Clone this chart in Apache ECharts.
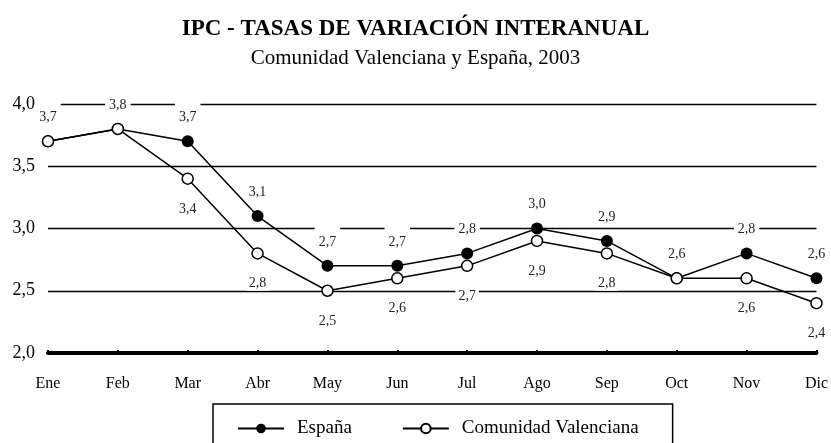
<!DOCTYPE html>
<html>
<head>
<meta charset="utf-8">
<script src="https://cdn.jsdelivr.net/npm/echarts@6/dist/echarts.min.js"></script>
<style>
  html, body { margin: 0; padding: 0; background: #fff; }
  #chart { width: 831px; height: 443px; }
</style>
</head>
<body>
<div id="chart"></div>
<script>
// meses
const months = ['Ene', 'Feb', 'Mar', 'Abr', 'May', 'Jun', 'Jul', 'Ago', 'Sep', 'Oct', 'Nov', 'Dic'];
// tasas de variación interanual (%)
const espana = [3.7, 3.8, 3.7, 3.1, 2.7, 2.7, 2.8, 3.0, 2.9, 2.6, 2.8, 2.6];
const valenciana = [3.7, 3.8, 3.4, 2.8, 2.5, 2.6, 2.7, 2.9, 2.8, 2.6, 2.6, 2.4];
// etiquetas de la Comunidad que no aparecen (coinciden con España)
const valencianaSinEtiqueta = ['Ene', 'Feb', 'Oct'];
const yTicks = [2.0, 2.5, 3.0, 3.5, 4.0];

const FONT = 'Liberation Serif';
const coma = v => v.toFixed(1).replace('.', ',');

const labelBase = {
  show: true,
  fontFamily: FONT,
  fontSize: 14,
  color: '#222',
  backgroundColor: '#fff',
  formatter: p => coma(p.value)
};

const chart = echarts.init(document.getElementById('chart'));
chart.setOption({
  animation: false,
  title: [
    {
      text: 'IPC - TASAS DE VARIACIÓN INTERANUAL',
      left: 'center',
      top: 13,
      textStyle: { fontFamily: FONT, fontSize: 23, fontWeight: 'bold', color: '#000' }
    },
    {
      text: 'Comunidad Valenciana y España, 2003',
      left: 'center',
      top: 43,
      textStyle: { fontFamily: FONT, fontSize: 21, fontWeight: 'normal', color: '#000' }
    }
  ],
  legend: {
    left: 213,
    top: 404,
    padding: [15, 34, 20, 24],
    itemGap: 50,
    itemWidth: 46,
    itemHeight: 12,
    borderColor: '#000',
    borderWidth: 1.5,
    textStyle: { fontFamily: FONT, fontSize: 19, color: '#000', padding: [0, 0, 0, 8] },
    data: ['España', 'Comunidad Valenciana']
  },
  grid: { left: 48, right: 13, top: 104, bottom: 90 },
  xAxis: {
    type: 'category',
    data: months,
    boundaryGap: false,
    axisLine: { lineStyle: { color: '#000', width: 4 } },
    axisTick: { show: true, inside: true, length: 3, lineStyle: { color: '#000', width: 2 } },
    axisLabel: { fontFamily: FONT, fontSize: 16, color: '#000', margin: 23 }
  },
  yAxis: {
    type: 'value',
    min: yTicks[0],
    max: yTicks[yTicks.length - 1],
    interval: yTicks[1] - yTicks[0],
    axisLine: { show: false },
    axisTick: { show: false },
    splitLine: { lineStyle: { color: '#000', width: 1.3 } },
    axisLabel: { fontFamily: FONT, fontSize: 18, color: '#000', margin: 13, formatter: v => coma(v) }
  },
  series: [
    {
      name: 'España',
      type: 'line',
      data: espana,
      symbol: 'circle',
      symbolSize: 12,
      itemStyle: { color: '#000' },
      lineStyle: { color: '#000', width: 1.5 },
      label: Object.assign({}, labelBase, { position: 'top', distance: 10, padding: [8, 4, 1, 4] })
    },
    {
      name: 'Comunidad Valenciana',
      type: 'line',
      data: valenciana.map((v, i) => ({
        value: v,
        label: { show: !valencianaSinEtiqueta.includes(months[i]) }
      })),
      symbol: 'circle',
      symbolSize: 11,
      itemStyle: { color: '#fff', borderColor: '#000', borderWidth: 1.5 },
      lineStyle: { color: '#000', width: 1.5 },
      label: Object.assign({}, labelBase, { position: 'bottom', distance: 16, padding: [1, 3, 0, 3] })
    }
  ]
});
</script>
</body>
</html>
